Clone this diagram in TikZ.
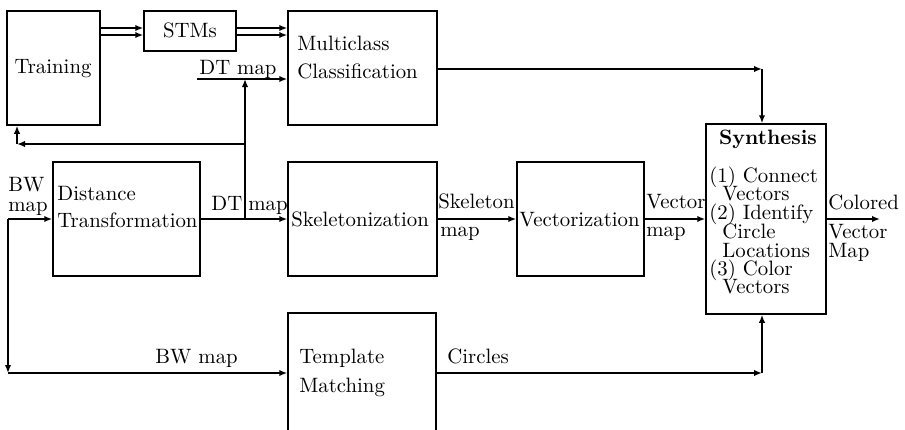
\documentclass[tikz,border=0pt]{standalone}
\usetikzlibrary{arrows.meta,fit}

\begin{document}
\begin{tikzpicture}[
  x=0.5pt, y=-0.5pt,
  every node/.style={font=\fontsize{10.4}{12}\selectfont},
  box/.style={draw, line width=0.75pt, inner sep=0pt},
  lbl/.style={inner sep=0pt, anchor=base west},
  clbl/.style={inner sep=0pt, anchor=base},
  arr/.style={line width=0.75pt, -{Latex[length=4pt,width=3.2pt]}}
]
\useasboundingbox (0,0) rectangle (905,429);
\clip (0,0) rectangle (905,429);

% processing blocks
\node[box, fit={(7,11) (100,125)}]   (train) {};
\node[box, fit={(144,11) (236,51)}]  (stm)   {};
\node[box, fit={(288,11) (437,125)}] (mc)    {};
\node[box, fit={(53,162) (200,276)}] (dist)  {};
\node[box, fit={(288,162) (437,276)}] (skel) {};
\node[box, fit={(517,162) (644,276)}] (vec)  {};
\node[box, fit={(706,124) (826,314)}] (syn)  {};
\node[box, fit={(288,313) (436,460)}] (tmpl) {};

% block titles
\node[clbl] (trainT) at (53,73) {Training};
\node[clbl] (stmT) at (190,37) {STMs};
\node[lbl] (mcT1) at (297,50) {Multiclass};
\node[lbl] (mcT2) at (297,78) {Classification};
\node[lbl] (distT1) at (57,200) {Distance};
\node[lbl] (distT2) at (57,227) {Transformation};
\node[lbl] (skelT) at (291,226) {Skeletonization};
\node[lbl] (vecT) at (519,226) {Vectorization};
\node[lbl] (tmplT1) at (299,363) {Template};
\node[lbl] (tmplT2) at (299,392) {Matching};
\node[clbl] (synT) at (768,144) {\bfseries Synthesis};
\node[lbl] (syn1) at (709,182) {(1) Connect};
\node[lbl] (syn2) at (722,200) {Vectors};
\node[lbl] (syn3) at (709,219) {(2) Identify};
\node[lbl] (syn4) at (722,238) {Circle};
\node[lbl] (syn5) at (722,257) {Locations};
\node[lbl] (syn6) at (709,275) {(3) Color};
\node[lbl] (syn7) at (722,293) {Vectors};

% connector labels
\node[lbl] (dtTop) at (199,74) {DT map};
\node[lbl] (bwL1) at (8,191) {BW};
\node[lbl] (bwL2) at (8,211) {map};
\node[lbl] (dtA) at (211,210) {DT};
\node[lbl] (dtB) at (248,210) {map};
\node[lbl] (skA) at (438,208) {Skeleton};
\node[lbl] (skB) at (440,236) {map};
\node[lbl] (vcA) at (646,208) {Vector};
\node[lbl] (vcB) at (646,236) {map};
\node[lbl] (outA) at (828,209) {Colored};
\node[lbl] (outB) at (828,238) {Vector};
\node[lbl] (outC) at (828,257) {Map};
\node[lbl] (bwBot) at (155,363) {BW map};
\node[lbl] (circ) at (447,363) {Circles};

% junctions and corners
\coordinate (bwsplit) at (8,219);
\coordinate (bwcorner) at (8,373);
\coordinate (dtsplit) at (245,219);
\coordinate (fbcorner) at (17,144);
\coordinate (dtin) at (197,79);
\coordinate (mcorner) at (762,69);
\coordinate (ccorner) at (762,373);
\coordinate (out) at (880,219);

% training data to the classifier (double lines)
\draw[arr] (train.east |- 0,28) -- (stm.west |- 0,28);
\draw[arr] (train.east |- 0,35) -- (stm.west |- 0,35);
\draw[arr] (stm.east |- 0,28) -- (mc.west |- 0,28);
\draw[arr] (stm.east |- 0,35) -- (mc.west |- 0,35);

% BW map input
\draw[arr] (bwsplit) -- (dist.west);
\draw[arr] (bwsplit) -- (bwcorner);
\draw[arr] (bwcorner) -- (tmpl.west |- bwcorner);

% DT map distribution
\draw[arr] (dist.east) -- (skel.west);
\draw[arr] (dtsplit) -- (dtsplit |- dtin);
\draw[arr] (dtin) -- (mc.west |- dtin);
\draw[arr] (dtsplit |- fbcorner) -- (fbcorner);
\draw[arr] (fbcorner) -- (train.south -| fbcorner);

% main chain
\draw[arr] (skel.east) -- (vec.west);
\draw[arr] (vec.east) -- (syn.west);
\draw[arr] (syn.east) -- (out);

% classification and circles into synthesis
\draw[arr] (mc.east |- mcorner) -- (mcorner);
\draw[arr] (mcorner) -- (syn.north -| mcorner);
\draw[arr] (tmpl.east |- ccorner) -- (ccorner);
\draw[arr] (ccorner) -- (syn.south -| ccorner);
\end{tikzpicture}
\end{document}
